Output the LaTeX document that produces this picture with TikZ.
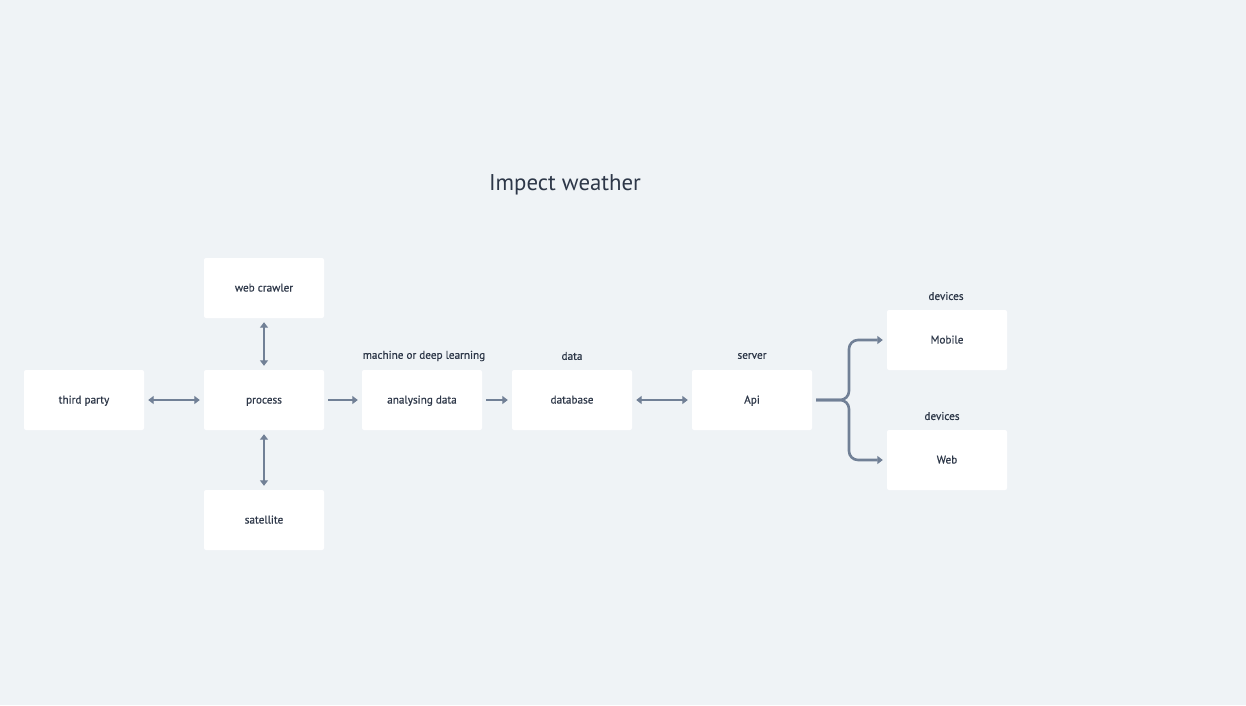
\documentclass[tikz,border=0pt]{standalone}
\usepackage{fontspec}
\setmainfont{PT Sans}
\newfontfamily\iwmedium{PT Sans}[FakeBold=0.6]
\usetikzlibrary{arrows.meta,positioning,calc}
\definecolor{IWBack}{HTML}{EFF3F6}
\definecolor{IWText}{HTML}{2D3748}
\definecolor{IWLine}{HTML}{718096}
\tikzset{
  box/.style={fill=white,rounded corners=2pt,minimum width=120pt,minimum height=60pt,text height=7.5pt,text depth=0.5pt,align=center,font=\iwmedium\fontsize{11.2}{13}\selectfont,text=IWText},
  tag/.style={font=\iwmedium\fontsize{11.2}{13}\selectfont,text=IWText},
  flow/.style={-{Triangle[length=5.5pt,width=8pt]},IWLine,line width=2.6pt,shorten >=4pt,shorten <=4pt},
  both/.style={{Triangle[length=5.5pt,width=8pt]}-{Triangle[length=5.5pt,width=8pt]},IWLine,line width=2.6pt,shorten >=4pt,shorten <=4pt}
}
\begin{document}
\begin{tikzpicture}[x=1pt,y=-1pt]
  \fill[IWBack] (0,0) rectangle (1246,705);
  \useasboundingbox (0,0) rectangle (1246,705);
  \node[font=\fontsize{22.8}{27}\selectfont,text=IWText] (title) at (565,185) {Impect weather};

  \node[box] (crawler) at (264,288) {web crawler};
  \node[box] (third) at (84,400) {third party};
  \node[box] (process) at (264,400) {process};
  \node[box] (satellite) at (264,520) {satellite};
  \node[box] (analyse) at (422,400) {analysing data};
  \node[box] (database) at (572,400) {database};
  \node[box] (api) at (752,400) {Api};
  \node[box] (mobile) at (947,340) {Mobile};
  \node[box] (web) at (947,460) {Web};

  \node[tag] (mltag) at (424,356) {machine or deep learning};
  \node[tag] (datatag) at (572,356) {data};
  \node[tag] (servertag) at (752,356) {server};
  \node[tag] (mobiletag) at (946,296) {devices};
  \node[tag] (webtag) at (942,416) {devices};

  \draw[both] (third) -- (process);
  \draw[both] (crawler) -- (process);
  \draw[both] (process) -- (satellite);
  \draw[flow] (process) -- (analyse);
  \draw[flow] (analyse) -- (database);
  \draw[both] (database) -- (api);

  \coordinate (fork) at (849,400);
  \draw[flow,rounded corners=9pt] (api.east) -- (fork) |- (mobile.west);
  \draw[flow,rounded corners=9pt] (api.east) -- (fork) |- (web.west);
\end{tikzpicture}
\end{document}
